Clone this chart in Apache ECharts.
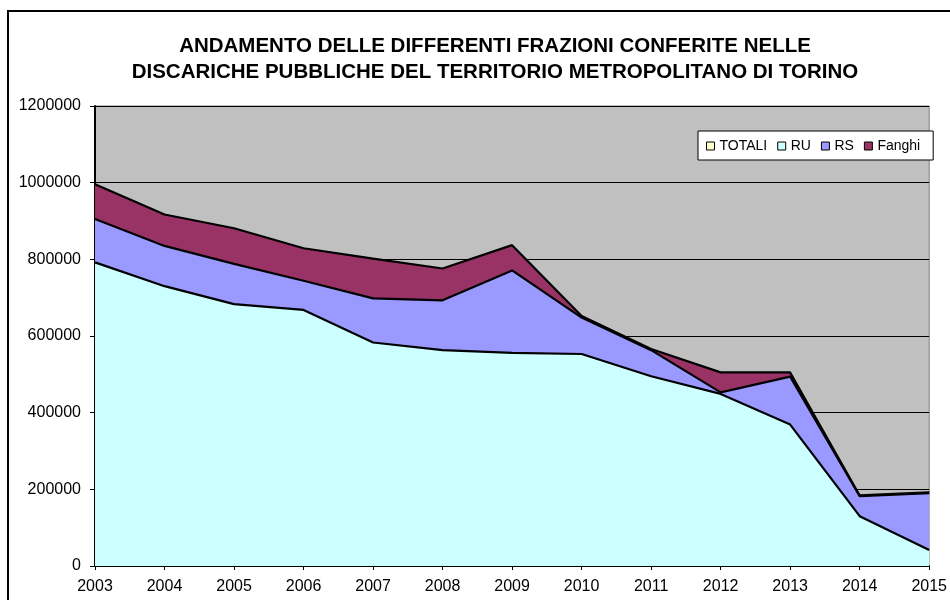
<!DOCTYPE html>
<html><head><meta charset="utf-8">
<script src="https://cdn.jsdelivr.net/npm/echarts@6/dist/echarts.min.js"></script>
<style>html,body{margin:0;padding:0;background:#fff}#c{width:950px;height:600px}</style>
</head><body><div id="c"></div>
<script>
const years = ['2003','2004','2005','2006','2007','2008','2009','2010','2011','2012','2013','2014','2015'];
const totali = [996000, 917000, 881000, 829000, 802000, 776000, 837000, 652000, 566000, 505000, 505000, 184000, 192000];
const ru     = [792000, 730000, 683000, 668000, 583000, 563000, 556000, 553000, 495000, 449000, 369000, 130000, 42000];
const rs     = [113000, 105000, 105000,  76000, 115000, 130000, 215000,  95000,  68000,   4000, 125000,  52000, 148000];
const fanghi = [ 91000,  82000,  93000,  85000, 104000,  83000,  66000,   4000,   3000,  52000,  11000,   2000,   2000];
const yMin = 0, yMax = 1200000, yStep = 200000;
const titleText = 'ANDAMENTO DELLE DIFFERENTI FRAZIONI CONFERITE NELLE\nDISCARICHE PUBBLICHE DEL TERRITORIO METROPOLITANO DI TORINO';

const chart = echarts.init(document.getElementById('c'), null, {renderer:'canvas'});
const font = 'Liberation Sans, Arial, sans-serif';
function areaSeries(name, data, color, stacked, z) {
  const s = {
    name, type:'line', data, symbol:'none', z,
    color: color,
    itemStyle:{color: color},
    lineStyle:{color:'#000', width:0},
    areaStyle:{color: color, opacity:1},
    emphasis:{disabled:true}
  };
  if (stacked) s.stack = 'tot';
  return s;
}
function outlineSeries(name, data) {
  return {
    name: name + ' ', type:'line', data, symbol:'none', z:10, stack:'outline',
    lineStyle:{color:'#000', width:2.2}, itemStyle:{color:'#000'},
    emphasis:{disabled:true}, silent:true
  };
}
chart.setOption({
  animation:false,
  backgroundColor:'#fff',
  textStyle:{fontFamily:font},
  graphic:[{type:'rect', shape:{x:8, y:11, width:1000, height:1000}, style:{fill:'none', stroke:'#000', lineWidth:2}, z:-1}],
  title:{
    text:titleText, left:490, top:28, textAlign:'center',
    textStyle:{fontFamily:font, fontWeight:'bold', fontSize:20.5, lineHeight:26, color:'#000'}
  },
  legend:{
    data:['TOTALI','RU','RS','Fanghi'],
    left:698, top:131, orient:'horizontal',
    icon:'rect', itemWidth:8, itemHeight:8, itemGap:10,
    padding:[8,13,7,8],
    backgroundColor:'#fff', borderColor:'#000', borderWidth:1, borderRadius:0,
    itemStyle:{borderColor:'#000', borderWidth:1},
    textStyle:{fontFamily:font, fontSize:14, color:'#000'}
  },
  grid:{left:95, right:16, top:106, bottom:34, show:true, backgroundColor:'#C0C0C0', borderColor:'#808080', borderWidth:1, containLabel:false},
  xAxis:{
    type:'category', data:years, boundaryGap:false,
    axisLine:{lineStyle:{color:'#000', width:2}},
    axisTick:{show:true, length:4, lineStyle:{color:'#000'}},
    axisLabel:{color:'#000', fontSize:16, margin:13, fontFamily:font},
    splitLine:{show:false}
  },
  yAxis:{
    type:'value', min:yMin, max:yMax, interval:yStep,
    axisLine:{show:true, lineStyle:{color:'#000', width:2}},
    axisTick:{show:true, length:5, lineStyle:{color:'#000'}},
    axisLabel:{color:'#000', fontSize:16, margin:14, fontFamily:font, formatter:v=>String(v)},
    splitLine:{show:true, lineStyle:{color:'#000', width:1}}
  },
  series:[
    areaSeries('TOTALI', totali, '#FFFFCC', false, 1),
    areaSeries('RU', ru, '#CCFFFF', true, 2),
    areaSeries('RS', rs, '#9999FF', true, 3),
    areaSeries('Fanghi', fanghi, '#993366', true, 4),
    outlineSeries('RU', ru),
    outlineSeries('RS', rs),
    outlineSeries('Fanghi', fanghi)
  ]
});
</script></body></html>
